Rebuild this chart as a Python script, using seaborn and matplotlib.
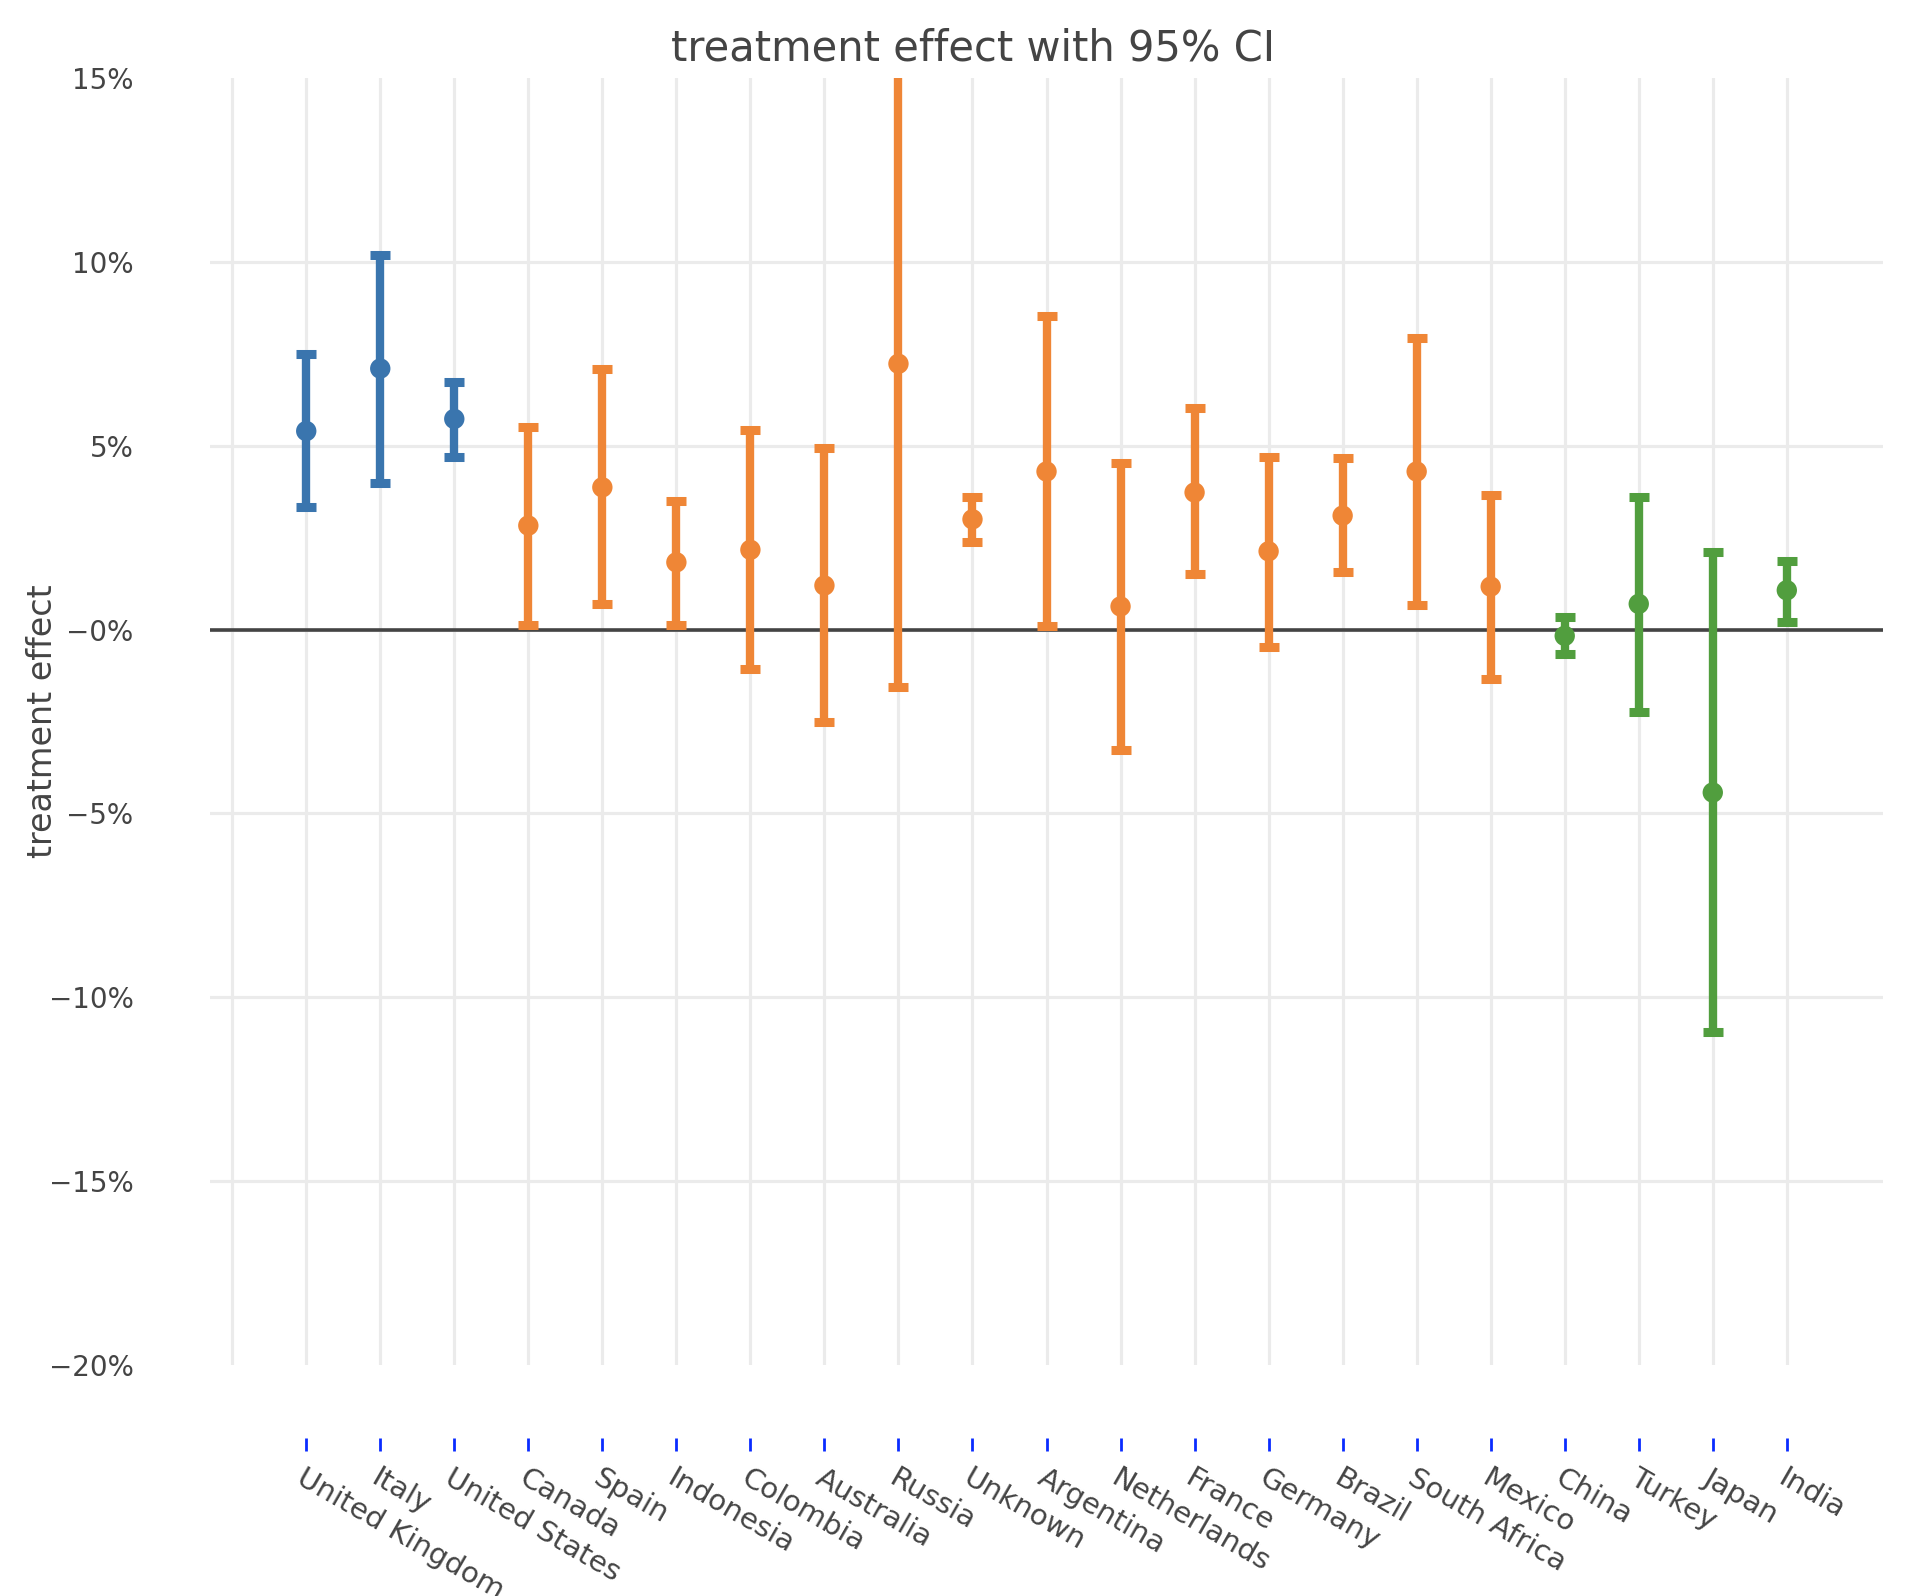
import matplotlib
matplotlib.use("Agg")
import matplotlib.pyplot as plt
import pandas as pd
import seaborn as sns

countries = [
    "United Kingdom", "Italy", "United States", "Canada", "Spain", "Indonesia",
    "Colombia", "Australia", "Russia", "Unknown", "Argentina", "Netherlands",
    "France", "Germany", "Brazil", "South Africa", "Mexico", "China", "Turkey",
    "Japan", "India",
]
groups = ["A"] * 3 + ["B"] * 14 + ["C"] * 4
effect = [5.40, 7.10, 5.73, 2.83, 3.87, 1.83, 2.17, 1.20, 7.23, 3.00, 4.30,
          0.63, 3.73, 2.13, 3.10, 4.30, 1.17, -0.17, 0.70, -4.43, 1.07]
ci_low = [3.33, 4.00, 4.70, 0.13, 0.70, 0.13, -1.07, -2.50, -1.57, 2.37, 0.10,
          -3.27, 1.50, -0.47, 1.57, 0.67, -1.33, -0.67, -2.23, -10.93, 0.20]
ci_high = [7.50, 10.20, 6.73, 5.50, 7.10, 3.50, 5.43, 4.93, 16.03, 3.60, 8.53,
           4.53, 6.03, 4.70, 4.67, 7.93, 3.67, 0.33, 3.60, 2.10, 1.87]
palette = {"A": "#3a75ae", "B": "#ef8636", "C": "#519e3e"}
ytick_values = [-20, -15, -10, -5, 0, 5, 10, 15]
ytick_labels = ["\u221220%", "\u221215%", "\u221210%", "\u22125%", "\u22120%",
                "5%", "10%", "15%"]

df = pd.DataFrame({"country": countries, "group": groups, "effect": effect,
                   "low": ci_low, "high": ci_high})

sns.set_theme(style="white")
plt.rcParams["font.family"] = ["DejaVu Sans"]
text_color = "#444444"

fig = plt.figure(figsize=(19.16, 15.96), dpi=100)
ax = fig.add_axes([0.1096, 0.1447, 0.8732, 0.8064])

# error bars per group, then the points on top
for grp, sub in df.groupby("group"):
    ax.errorbar(sub["country"], sub["effect"],
                yerr=[sub["effect"] - sub["low"], sub["high"] - sub["effect"]],
                fmt="none", ecolor=palette[grp], elinewidth=6, capsize=7.5,
                capthick=6.5, zorder=3)
sns.scatterplot(data=df, x="country", y="effect", hue="group", palette=palette,
                s=215, linewidth=0, legend=False, zorder=4, ax=ax)

ax.axhline(0, color="#444444", lw=2.6, zorder=2)

ax.set_ylim(-20, 15)
ax.set_xlim(-1.3, 21.3)
ax.set_yticks(ytick_values)
ax.set_yticklabels(ytick_labels)
ax.set_xticks(range(len(countries)))
ax.set_xticks([-1], minor=True)

ax.grid(axis="y", color="#ebebeb", lw=2.3, zorder=0)
ax.grid(axis="x", which="both", color="#ebebeb", lw=2.3, zorder=0)
ax.set_axisbelow(True)
gl = ax.yaxis.get_gridlines()
gl[0].set_visible(False)
gl[-1].set_visible(False)

for s in ax.spines.values():
    s.set_visible(False)
ax.spines["bottom"].set_position(("outward", 52.5))

ax.tick_params(axis="y", length=0, pad=55, labelsize=20, labelcolor=text_color)
ax.tick_params(axis="x", which="major", bottom=True, length=9.5, width=2,
               color="#0a2cff", direction="out", pad=9, labelsize=21,
               labelcolor=text_color)
ax.tick_params(axis="x", which="minor", length=0)
for lab in ax.get_xticklabels():
    lab.set_rotation(-30)
    lab.set_rotation_mode("anchor")
    lab.set_ha("left")
    lab.set_va("top")

ax.set_xlabel("")
ax.set_ylabel("treatment effect", fontsize=24, color=text_color)
ax.yaxis.set_label_coords(-0.09, 0.5)

fig.text(0.508, 0.9618, "treatment effect with 95% CI", fontsize=30,
         color=text_color, ha="center", va="baseline")

fig.savefig("out.png", dpi=100)
